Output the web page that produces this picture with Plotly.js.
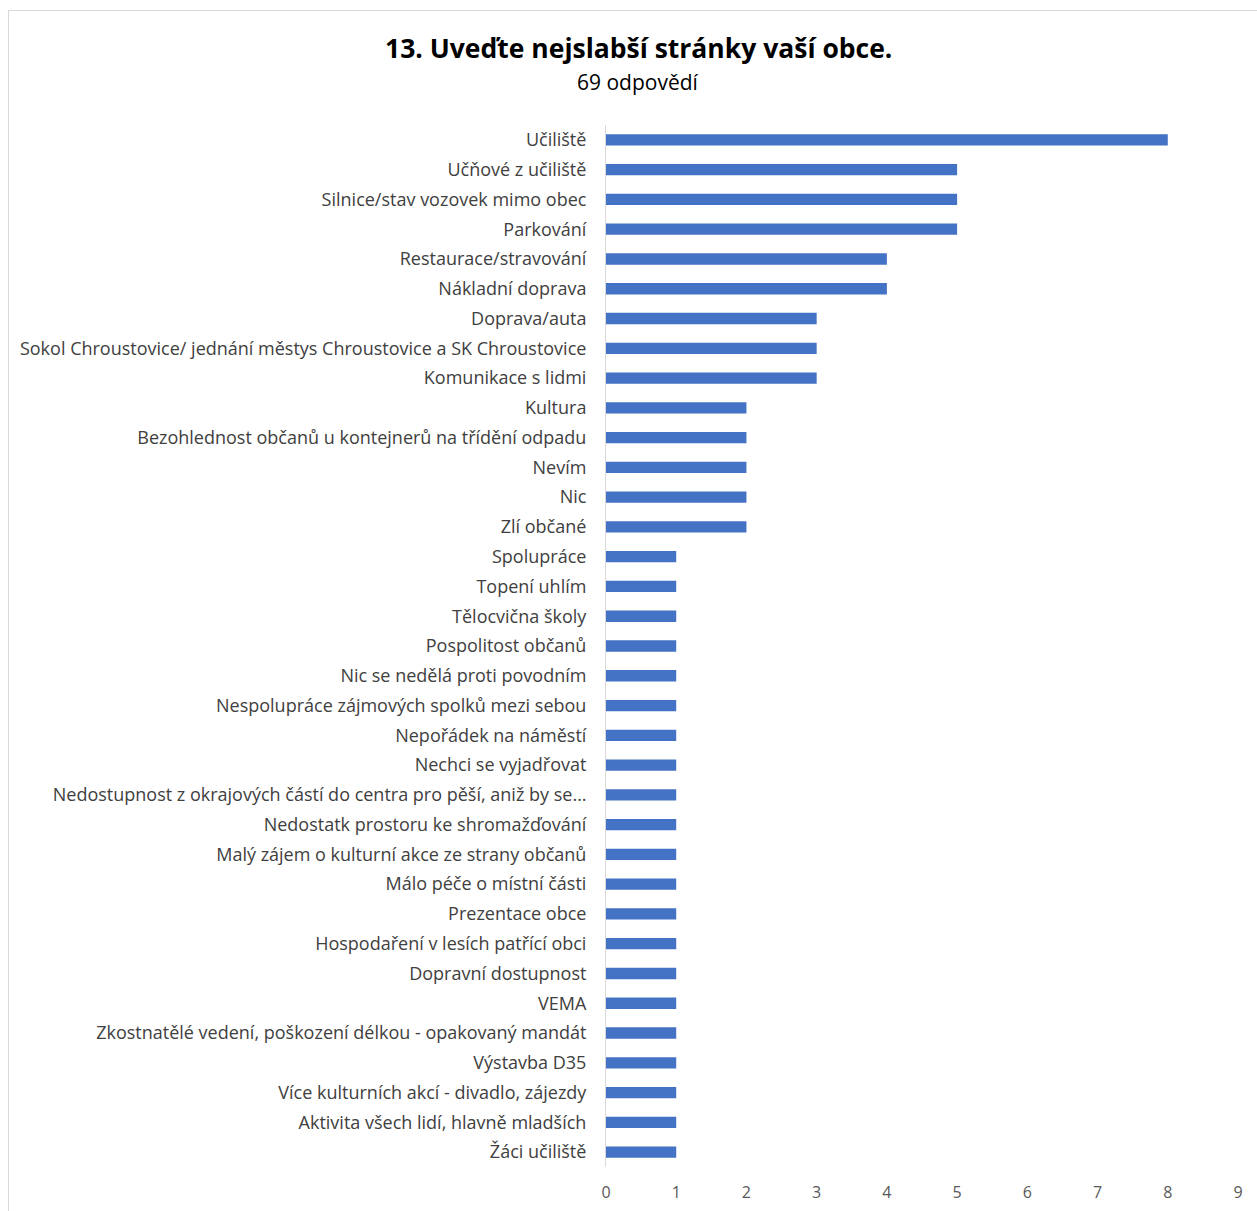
<!DOCTYPE html>
<html>
<head>
<meta charset="utf-8">
<script src="https://cdn.plot.ly/plotly-3.0.1.min.js"></script>
<style>
  html, body { margin: 0; padding: 0; background: #ffffff; }
  #frame { position: absolute; left: 8px; top: 10px; width: 1260px; height: 1210px; border: 1px solid #d9d9d9; box-sizing: border-box; }
  #chart { position: absolute; left: 0; top: 0; width: 1257px; height: 1211px; }
</style>
</head>
<body>
<div id="frame"></div>
<div id="chart"></div>
<script>
const categories = [
  "Učiliště",
  "Učňové z učiliště",
  "Silnice/stav vozovek mimo obec",
  "Parkování",
  "Restaurace/stravování",
  "Nákladní doprava",
  "Doprava/auta",
  "Sokol Chroustovice/ jednání městys Chroustovice a SK Chroustovice",
  "Komunikace s lidmi",
  "Kultura",
  "Bezohlednost občanů u kontejnerů na třídění odpadu",
  "Nevím",
  "Nic",
  "Zlí občané",
  "Spolupráce",
  "Topení uhlím",
  "Tělocvična školy",
  "Pospolitost občanů",
  "Nic se nedělá proti povodním",
  "Nespolupráce zájmových spolků mezi sebou",
  "Nepořádek na náměstí",
  "Nechci se vyjadřovat",
  "Nedostupnost z okrajových částí do centra pro pěší, aniž by se…",
  "Nedostatk prostoru ke shromažďování",
  "Malý zájem o kulturní akce ze strany občanů",
  "Málo péče o místní části",
  "Prezentace obce",
  "Hospodaření v lesích patřící obci",
  "Dopravní dostupnost",
  "VEMA",
  "Zkostnatělé vedení, poškození délkou - opakovaný mandát",
  "Výstavba D35",
  "Více kulturních akcí - divadlo, zájezdy",
  "Aktivita všech lidí, hlavně mladších",
  "Žáci učiliště"
];
const counts = [8, 5, 5, 5, 4, 4, 3, 3, 3, 2, 2, 2, 2, 2, 1, 1, 1, 1, 1, 1, 1, 1, 1, 1, 1, 1, 1, 1, 1, 1, 1, 1, 1, 1, 1];
const xTicks = [0, 1, 2, 3, 4, 5, 6, 7, 8, 9];
const titleText = "13. Uveďte nejslabší stránky vaší obce.";
const subtitleText = "69 odpovědí";

const FONT = "'Open Sans', sans-serif";

const trace = {
  type: 'bar',
  orientation: 'h',
  x: counts,
  y: categories,
  marker: { color: '#4472c4', line: { width: 0 } },
  hoverinfo: 'x+y'
};

const layout = {
  width: 1257,
  height: 1211,
  paper_bgcolor: 'rgba(0,0,0,0)',
  plot_bgcolor: 'rgba(0,0,0,0)',
  margin: { l: 606, r: 19, t: 125, b: 44 },
  bargap: 0.62,
  showlegend: false,
  font: { family: FONT, size: 18, color: '#404040' },
  xaxis: {
    range: [0, 9],
    tickvals: xTicks,
    ticktext: xTicks.map(String),
    showgrid: false,
    zeroline: false,
    showline: false,
    ticks: '',
    ticklabelstandoff: 14,
    tickfont: { family: FONT, size: 16, color: '#595959' },
    fixedrange: true
  },
  yaxis: {
    type: 'category',
    autorange: 'reversed',
    showgrid: false,
    zeroline: false,
    showline: true,
    linecolor: '#d9d9d9',
    linewidth: 1,
    ticks: '',
    ticklabelstandoff: 15,
    tickfont: { family: FONT, size: 18, color: '#404040' },
    fixedrange: true
  },
  annotations: [
    {
      xref: 'paper', yref: 'paper',
      x: (638 - 606) / 632, y: (1167 - 48) / 1042,
      xanchor: 'center', yanchor: 'middle',
      text: '<b>' + titleText + '</b>',
      showarrow: false,
      font: { family: FONT, size: 26.5, color: '#000000' }
    },
    {
      xref: 'paper', yref: 'paper',
      x: (638 - 606) / 632, y: (1167 - 82) / 1042,
      xanchor: 'center', yanchor: 'middle',
      text: subtitleText,
      showarrow: false,
      font: { family: FONT, size: 21, color: '#000000' }
    }
  ]
};

Plotly.newPlot('chart', [trace], layout, { displayModeBar: false, staticPlot: true });
</script>
</body>
</html>
